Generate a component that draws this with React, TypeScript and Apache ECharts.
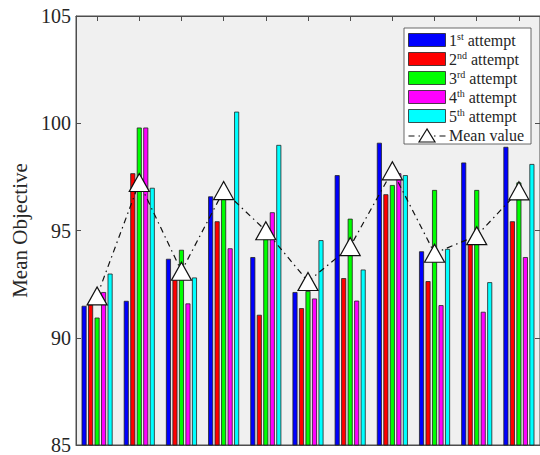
import React, { useEffect, useRef } from "react";
import * as echarts from "echarts";

const categories = ["1", "2", "3", "4", "5", "6", "7", "8", "9", "10", "11"];
const attempt1 = [91.49, 91.72, 93.68, 96.59, 93.76, 92.13, 97.58, 99.09, 94.03, 98.17, 98.9];
const attempt2 = [91.55, 97.67, 92.79, 95.43, 91.07, 91.38, 92.78, 96.69, 92.64, 94.4, 95.43];
const attempt3 = [90.94, 99.8, 94.1, 96.55, 94.68, 92.18, 95.55, 97.12, 96.89, 96.89, 97.24];
const attempt4 = [92.13, 99.8, 91.6, 94.17, 95.85, 91.83, 91.73, 97.67, 91.52, 91.21, 93.76];
const attempt5 = [92.99, 96.99, 92.81, 100.54, 98.99, 94.55, 93.18, 97.58, 94.14, 92.59, 98.1];
const meanValues = [91.95, 97.24, 93.1, 96.86, 94.99, 92.62, 94.25, 97.78, 93.94, 94.76, 96.85];

const seriesNames = ["1st attempt", "2nd attempt", "3rd attempt", "4th attempt", "5th attempt"];
const seriesSup = ["st", "nd", "rd", "th", "th"];
const seriesNum = ["1", "2", "3", "4", "5"];
const meanName = "Mean value";
const seriesColors = ["#0000ff", "#ff0000", "#00ff00", "#ff00ff", "#00ffff"];
const yTicks = { min: 85, max: 105, interval: 5 };

export default function App() {
  const ref = useRef<HTMLDivElement>(null);
  useEffect(() => {
    if (!ref.current) return;
    const chart = echarts.init(ref.current, undefined, { renderer: "svg" });
    const font = "'Liberation Serif', serif";
    const axisColor = "#4d4d4d";
    const textColor = "#262626";
    const data = [attempt1, attempt2, attempt3, attempt4, attempt5];
    const bars = data.map((d, i) => ({
      name: seriesNames[i],
      type: "bar",
      data: d,
      barWidth: 5,
      barGap: "30%",
      itemStyle: { color: seriesColors[i], borderColor: "#222", borderWidth: 0.8 },
      z: 2,
    }));

    // legend drawn with graphic elements
    const lgX = 404;
    const lgY = 28;
    const rowH = 19;
    const legendChildren: any[] = [
      {
        type: "rect",
        shape: { x: lgX, y: lgY, width: 127, height: 116 },
        style: { fill: "#ffffff", stroke: "#444", lineWidth: 0.8 },
      },
    ];
    seriesNames.forEach((_, i) => {
      legendChildren.push({
        type: "rect",
        shape: { x: lgX + 4.5, y: lgY + 5.5 + i * rowH, width: 37, height: 13 },
        style: { fill: seriesColors[i], stroke: "#222", lineWidth: 0.8 },
      });
      legendChildren.push({
        type: "text",
        x: lgX + 45,
        y: lgY + 12 + i * rowH,
        style: {
          text: "{n|" + seriesNum[i] + "}{sup|" + seriesSup[i] + "}{n| attempt}",
          verticalAlign: "middle",
          align: "left",
          fontFamily: font,
          fontSize: 16,
          fill: textColor,
          rich: {
            n: { fontFamily: font, fontSize: 16, fill: textColor, color: textColor },
            sup: { fontFamily: font, fontSize: 10, fill: textColor, color: textColor, padding: [0, 0, 7, 0] },
          },
        },
      });
    });
    const my = lgY + 12 + 5 * rowH;
    legendChildren.push({
      type: "line",
      shape: { x1: lgX + 4.5, y1: my + 1, x2: lgX + 42, y2: my + 1 },
      style: { stroke: "#111", lineWidth: 1.2, lineDash: [6, 4, 1.5, 4] },
    });
    legendChildren.push({
      type: "polygon",
      shape: { points: [[lgX + 23, my - 6], [lgX + 15, my + 7], [lgX + 31, my + 7]] },
      style: { fill: "#ffffff", stroke: "#111", lineWidth: 1.2 },
    });
    legendChildren.push({
      type: "text",
      x: lgX + 45,
      y: my,
      style: {
        text: meanName,
        verticalAlign: "middle",
        align: "left",
        fontFamily: font,
        fontSize: 16,
        fill: textColor,
      },
    });

    chart.setOption({
      animation: false,
      backgroundColor: "#ffffff",
      textStyle: { fontFamily: font },
      grid: {
        left: 76,
        right: -3,
        top: 16,
        bottom: 4,
        show: true,
        backgroundColor: "#f0f0f0",
        borderColor: axisColor,
        borderWidth: 1,
      },
      graphic: [{ type: "group", z: 100, children: legendChildren }],
      xAxis: [
        {
          type: "category",
          data: categories,
          position: "bottom",
          axisLine: { show: true, lineStyle: { color: axisColor } },
          axisTick: { show: true, inside: true, alignWithLabel: true, length: 5, lineStyle: { color: axisColor } },
          axisLabel: { show: false },
        },
        {
          type: "category",
          data: categories,
          position: "top",
          axisLine: { show: true, lineStyle: { color: axisColor } },
          axisTick: { show: true, inside: true, alignWithLabel: true, length: 5, lineStyle: { color: axisColor } },
          axisLabel: { show: false },
        },
      ],
      yAxis: [
        {
          type: "value",
          min: yTicks.min,
          max: yTicks.max,
          interval: yTicks.interval,
          name: "Mean Objective",
          nameLocation: "middle",
          nameGap: 42,
          nameTextStyle: { fontFamily: font, fontSize: 21, color: textColor },
          axisLine: { show: true, lineStyle: { color: axisColor } },
          axisTick: { show: true, inside: true, length: 5, lineStyle: { color: axisColor } },
          axisLabel: { fontFamily: font, fontSize: 20, color: textColor, margin: 5 },
          splitLine: { show: false },
        },
        {
          type: "value",
          min: yTicks.min,
          max: yTicks.max,
          interval: yTicks.interval,
          position: "right",
          axisLine: { show: true, lineStyle: { color: axisColor } },
          axisTick: { show: true, inside: true, length: 5, lineStyle: { color: axisColor } },
          axisLabel: { show: false },
          splitLine: { show: false },
        },
      ],
      series: [
        ...bars,
        {
          name: meanName,
          type: "line",
          data: meanValues,
          symbol: "triangle",
          symbolSize: [20, 18],
          z: 5,
          itemStyle: { color: "#ffffff", borderColor: "#111", borderWidth: 1.2 },
          lineStyle: { color: "#111", width: 1.2, type: [6, 4, 1.5, 4] },
        },
      ],
    });
    return () => chart.dispose();
  }, []);
  return (
    <div
      ref={ref}
      style={{ position: "fixed", left: 0, top: 0, width: 540, height: 455 }}
    />
  );
}
